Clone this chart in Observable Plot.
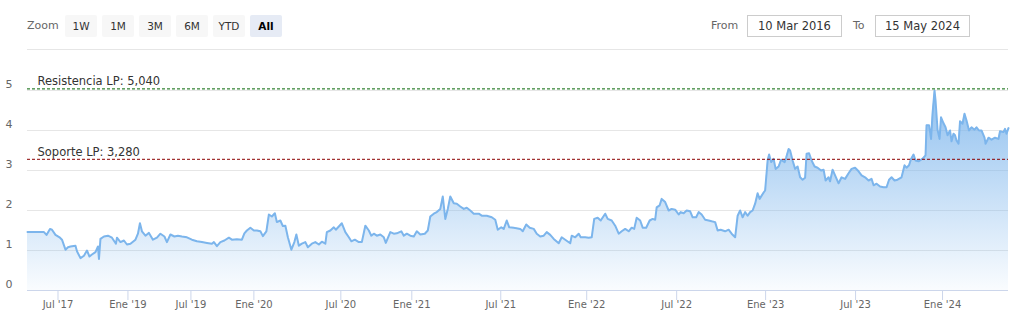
<!DOCTYPE html>
<html><head><meta charset="utf-8">
<script src="https://cdn.jsdelivr.net/npm/d3@7"></script>
<script src="https://cdn.jsdelivr.net/npm/@observablehq/plot@0.6"></script>
<style>
body{margin:0;background:#fff;font-family:"DejaVu Sans",sans-serif;}
#bar{position:relative;width:1018px;height:50px;}
#bar .t{position:absolute;top:15px;height:22px;line-height:22px;font-size:11px;color:#666;}
#bar .b{position:absolute;top:15px;width:32px;height:22px;line-height:22px;text-align:center;font-size:10.5px;color:#333;background:#f7f7f7;border-radius:2px;}
#bar .b.sel{background:#e6ebf5;color:#000;font-weight:bold;}
#bar .in{position:absolute;top:15px;width:93px;height:20px;line-height:20px;border:1px solid #ccc;text-align:center;font-size:11.5px;color:#333;}
#bar .sep{position:absolute;left:27px;top:49px;width:981px;height:1px;background:#e6e6e6;}
#chart svg{display:block}
</style>
</head><body>
<div id="bar"></div>
<div id="chart"></div>
<script>
// Ordinal trading-session index (Highcharts stock ordinal axis) and price
const session = [0,33,38,45,49,56,65,69,76,81,86,96,99,106,113,119,124,129,136,141,143,146,153,161,169,177,179,186,193,199,206,216,221,225,229,236,243,251,259,266,274,279,286,294,301,309,319,329,339,349,359,369,373,379,386,394,403,409,419,429,434,439,446,453,459,466,471,478,483,489,495,499,506,511,516,521,528,534,538,543,549,556,561,569,576,583,589,596,599,606,613,617,623,629,636,643,648,655,663,669,676,683,688,693,699,706,713,717,726,733,739,748,753,759,766,773,779,786,795,801,806,813,819,826,831,836,841,846,853,859,866,873,879,886,893,903,909,919,929,936,941,948,953,959,964,973,976,986,991,998,1005,1013,1019,1026,1033,1039,1046,1053,1063,1069,1076,1086,1089,1096,1103,1107,1116,1123,1129,1134,1141,1147,1156,1161,1169,1176,1183,1189,1196,1203,1209,1214,1219,1226,1231,1238,1245,1251,1256,1259,1265,1269,1276,1283,1289,1296,1303,1307,1313,1319,1326,1331,1338,1343,1349,1356,1363,1369,1376,1381,1387,1396,1403,1409,1416,1421,1426,1431,1436,1441,1446,1451,1456,1461,1465,1473,1476,1481,1484,1488,1493,1497,1503,1508,1515,1518,1523,1526,1531,1536,1541,1546,1551,1556,1559,1564,1569,1575,1581,1588,1593,1597,1603,1606,1611,1616,1623,1629,1636,1643,1649,1656,1663,1669,1676,1683,1689,1693,1699,1706,1713,1719,1724,1729,1735,1741,1749,1755,1759,1764,1768,1773,1777,1783,1788,1793,1797,1799,1804,1808,1811,1815,1817,1821,1825,1828,1833,1837,1841,1846,1849,1853,1856,1859,1863,1866,1871,1875,1879,1884,1889,1895,1899,1904,1909,1915,1917,1923,1929,1936,1943,1946,1953,1956,1959,1963];
const price = [1.46,1.46,1.39,1.54,1.52,1.39,1.32,1.27,1.02,1.08,1.10,1.12,0.98,0.81,0.87,1.00,0.85,0.90,0.96,1.10,0.79,1.29,1.35,1.37,1.32,1.17,1.32,1.21,1.25,1.15,1.17,1.27,1.42,1.68,1.48,1.37,1.44,1.27,1.32,1.42,1.35,1.21,1.40,1.35,1.37,1.35,1.33,1.27,1.23,1.21,1.19,1.17,1.21,1.11,1.21,1.25,1.32,1.27,1.28,1.27,1.43,1.50,1.57,1.50,1.50,1.48,1.36,1.48,1.90,1.85,1.93,1.71,1.75,1.61,1.62,1.33,1.02,1.21,1.40,1.12,1.17,1.21,1.08,1.17,1.21,1.15,1.22,1.17,1.46,1.50,1.58,1.52,1.60,1.68,1.46,1.33,1.23,1.27,1.21,1.21,1.62,1.50,1.37,1.42,1.37,1.40,1.33,1.19,1.46,1.42,1.43,1.48,1.37,1.42,1.37,1.35,1.48,1.40,1.42,1.50,1.85,1.92,1.96,2.04,2.35,1.79,2.04,2.35,2.18,2.17,2.10,2.04,2.07,2.00,1.92,1.92,1.87,1.87,1.83,1.77,1.52,1.58,1.54,1.75,1.58,1.57,1.56,1.54,1.48,1.65,1.57,1.54,1.42,1.35,1.37,1.46,1.39,1.29,1.18,1.33,1.27,1.18,1.37,1.33,1.42,1.33,1.33,1.32,1.33,1.79,1.82,1.75,1.92,1.79,1.75,1.62,1.42,1.48,1.54,1.48,1.57,1.54,1.82,1.75,1.57,1.57,1.75,1.79,1.77,2.08,2.13,2.29,2.21,2.00,2.04,2.02,1.90,1.96,1.93,2.00,1.98,1.83,1.83,1.96,1.90,1.77,1.75,1.73,1.71,1.50,1.52,1.48,1.52,1.42,1.33,1.87,2.00,1.83,1.96,1.87,1.96,2.00,2.17,2.43,2.29,2.45,2.50,3.25,3.40,3.21,3.29,3.04,3.10,3.27,3.21,3.32,3.54,3.50,3.25,3.04,3.10,2.83,2.77,2.82,3.42,3.43,3.25,3.10,3.07,3.00,3.02,2.75,2.83,2.73,3.02,2.88,2.68,2.83,2.79,2.93,3.04,3.07,2.98,2.88,2.83,2.75,2.79,2.63,2.67,2.60,2.58,2.58,2.77,2.83,2.75,2.77,2.83,3.13,3.07,3.13,3.29,3.40,3.25,3.23,3.27,3.32,3.38,4.13,4.13,3.79,4.42,5.00,4.75,4.02,3.79,4.33,4.18,4.08,3.88,4.00,3.73,3.92,3.88,3.75,3.67,4.23,4.17,4.42,4.25,4.00,4.08,4.02,4.08,4.00,4.00,3.82,3.67,3.82,3.77,3.82,3.79,3.98,3.96,4.04,3.92,4.06];

const tickSessions = [61,201,327,453,627,769,947,1119,1299,1477,1657,1831];
const tickLabels = ["Jul '17","Ene '19","Jul '19","Ene '20","Jul '20","Ene '21","Jul '21","Ene '22","Jul '22","Ene '23","Jul '23","Ene '24"];
const yTicks = [0,1,2,3,4,5];
const levelValues = [5.04, 3.28];
const levelLabels = ["Resistencia LP: 5,040", "Soporte LP: 3,280"];
const levelColors = ["#006400", "#8b0000"];
const zoomButtons = ["1W","1M","3M","6M","YTD","All"];
const fromDate = "10 Mar 2016";
const toDate = "15 May 2024";

// toolbar
const bar = document.getElementById("bar");
const add = (cls, txt, left) => { const e = document.createElement("div"); e.className = cls; e.textContent = txt; e.style.left = left + "px"; bar.appendChild(e); return e; };
add("t", "Zoom", 27);
zoomButtons.forEach((b, i) => add("b" + (b === "All" ? " sel" : ""), b, 65 + i * 37));
add("t", "From", 711);
add("in", fromDate, 747);
add("t", "To", 853);
add("in", toDate, 875);
add("sep", "", 27);

const data = session.map((s, i) => ({session: s, price: price[i]}));
const levels = levelValues.map((v, i) => ({value: v, label: levelLabels[i], color: levelColors[i]}));
const labelMap = new Map(tickSessions.map((s, i) => [s, tickLabels[i]]));

const chart = Plot.plot({
  width: 1018,
  height: 265,
  marginLeft: 27,
  marginRight: 10,
  marginTop: 40,
  marginBottom: 25,
  style: {fontFamily: "DejaVu Sans, sans-serif", fontSize: "10px", background: "#fff"},
  x: {type: "linear", domain: [0, 1963]},
  y: {domain: [0, 5]},
  marks: [
    Plot.ruleY(yTicks.filter(d => d > 0), {stroke: "#e6e6e6"}),
    Plot.areaY(data, {x: "session", y: "price", fill: "url(#areaGrad)"}),
    Plot.lineY(data, {x: "session", y: "price", stroke: "#7cb5ec", strokeWidth: 2, strokeLinejoin: "round"}),
    Plot.ruleY(levels, {y: "value", stroke: "color", strokeDasharray: "3,2"}),
    Plot.text(levels, {y: "value", text: "label", frameAnchor: "left", dx: 10, dy: -3.5, lineAnchor: "bottom", textAnchor: "start", fill: "#333", fontSize: 11.5}),
    Plot.ruleY([0], {stroke: "#ccd6eb"}),
    Plot.axisX(tickSessions, {tickFormat: d => labelMap.get(d), tickSize: 10, tickPadding: 0, stroke: "#ccd6eb", fill: "#666", fontSize: 10, label: null}),
    Plot.axisY(yTicks, {tickSize: 0, tickPadding: 0, textAnchor: "start", dx: -22, dy: -6, fill: "#666", fontSize: 11, label: null})
  ]
});

const y = chart.scale("y");
const ns = "http://www.w3.org/2000/svg";
const defs = document.createElementNS(ns, "defs");
defs.innerHTML = `<linearGradient id="areaGrad" gradientUnits="userSpaceOnUse" x1="0" x2="0" y1="${y.apply(5)}" y2="${y.apply(0)}">
  <stop offset="0" stop-color="#7cb5ec" stop-opacity="0.85"/>
  <stop offset="1" stop-color="#7cb5ec" stop-opacity="0.04"/>
</linearGradient>`;
chart.insertBefore(defs, chart.firstChild);
document.getElementById("chart").appendChild(chart);
</script>
</body></html>
